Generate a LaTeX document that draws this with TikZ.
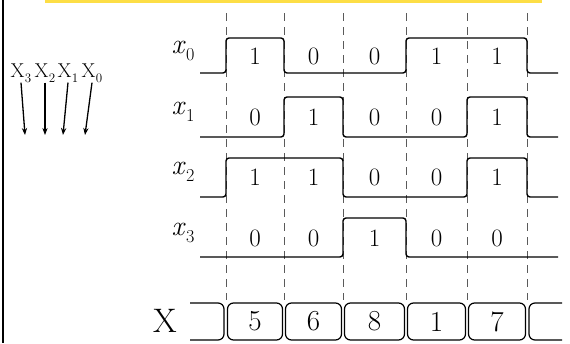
\documentclass[tikz,border=0pt]{standalone}
\usepackage{tikz}
\usetikzlibrary{arrows.meta,positioning}
\definecolor{hlyellow}{RGB}{253,222,70}
\definecolor{gridgray}{RGB}{90,90,90}
\newcommand{\sig}[2]{#1\kern0.5pt\raisebox{-0.25em}{\upshape\fontsize{0.65\dimexpr\fontdimen6\font\relax}{1pt}\selectfont #2}}

\begin{document}
\begin{tikzpicture}[x=1pt, y=-1pt,
  wave/.style={line width=1.4pt, rounded corners=3pt, line join=round},
  tick/.style={gridgray, line width=0.6pt, dash pattern=on 8pt off 6pt},
  bit/.style={font=\fontsize{25}{27}\selectfont},
  buscell/.style={draw, line width=1.2pt, rounded corners=6pt, minimum height=37pt, inner sep=0pt, font=\fontsize{29}{31}\selectfont},
  rowlbl/.style={font=\fontsize{28}{30}\selectfont},
  inlbl/.style={font=\fontsize{20}{22}\selectfont, inner sep=0pt}
]
  \useasboundingbox (0,0) rectangle (570,343);
  % frame
  \fill[hlyellow] (45,0) rectangle (542,2.5);
  \draw[line width=2.2pt] (3,0) -- (3,343);

  % bit order on the left
  \foreach \n/\lx/\ax in {3/21/25, 2/45/45, 1/68/63, 0/92/85} {
    \node[inlbl] (in\n) at (\lx,73) {\sig{X}{\n}};
    \coordinate (tip\n) at (\ax,135);
    \draw[-{Stealth[length=7pt]}, line width=1.3pt] (in\n.south) -- (tip\n);
  }

  % clock boundaries
  \foreach \x in {226,284,343,406,467,527} {
    \draw[tick] (\x,13) -- (\x,300);
  }

  % waveforms
  \draw[wave] (200,73) -| (226,38) -| (284,73) -| (406,38) -| (527,73) -- (558,73);
  \draw[wave] (200,137) -| (284,97) -| (343,137) -| (467,97) -| (527,137) -- (558,137);
  \draw[wave] (200,197) -| (226,158) -| (343,197) -| (467,158) -| (527,197) -- (558,197);
  \draw[wave] (200,257) -| (343,218) -| (406,257) -- (558,257);

  % labels and bit values
  \def\cellmid{{255,313.5,374.5,436.5,497}}
  \foreach \n/\y/\bits in {0/56/{1,0,0,1,1}, 1/117/{0,1,0,0,1}, 2/177/{1,1,0,0,1}, 3/238/{0,0,1,0,0}} {
    \node[rowlbl] (x\n) at (183,\y-5) {\sig{\textit{x}}{\n}};
    \foreach \b [count=\i] in \bits {
      \pgfmathsetmacro\cx{\cellmid[\i-1]}
      \node[bit] (b\n-\i) at (\cx,\y) {\b};
    }
  }

  % bus
  \node[font=\fontsize{34}{36}\selectfont] (X) at (165,321) {X};
  \draw[line width=1.2pt, rounded corners=6pt] (190,303) -- (224,303) -- (224,340) -- (190,340);
  \draw[line width=1.2pt, rounded corners=6pt] (562,303) -- (529,303) -- (529,340) -- (562,340);
  \foreach \a/\b/\v [count=\k] in {226/284/5, 284/343/6, 343/406/8, 406/467/1, 467/527/7} {
    \node[buscell, minimum width={\b-\a-3}] (bus\k) at ({(\a+\b)/2},321.5) {\v};
  }
\end{tikzpicture}
\end{document}
